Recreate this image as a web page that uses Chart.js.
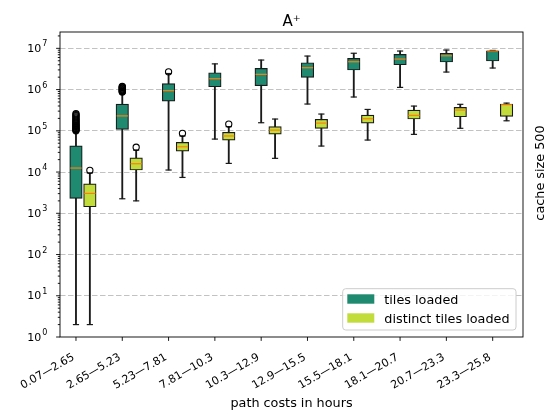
<!DOCTYPE html>
<html>
<head>
<meta charset="utf-8">
<script src="https://cdn.jsdelivr.net/npm/chart.js@4.4.1/dist/chart.umd.min.js"></script>
<style>
  html, body { margin: 0; padding: 0; background: #fff; }
  canvas { display: block; }
</style>
</head>
<body>
<canvas id="chart" width="548" height="415"></canvas>
<script>
const categories = ['0.07—2.65', '2.65—5.23', '5.23—7.81', '7.81—10.3', '10.3—12.9',
  '12.9—15.5', '15.5—18.1', '18.1—20.7', '20.7—23.3', '23.3—25.8'];

// tiles loaded
const tilesLow    = [2, 2250, 11200, 63000, 157000, 446000, 660000, 1130000, 2660000, 3330000];
const tilesQ1     = [2300, 108000, 527000, 1170000, 1240000, 1980000, 2980000, 4000000, 4660000, 4920000];
const tilesMedian = [12500, 230000, 940000, 1830000, 2340000, 3390000, 4730000, 5500000, 6600000, 8600000];
const tilesQ3     = [43000, 446000, 1390000, 2560000, 3270000, 4480000, 5700000, 7150000, 7600000, 8750000];
const tilesHigh   = [95000, 810000, 2450000, 4200000, 5200000, 6500000, 7600000, 8600000, 9100000, 8900000];
const tilesOutliers = [
  [100000, 104000, 108000, 112000, 117000, 122000, 128000, 134000, 140000, 147000,
   155000, 163000, 172000, 182000, 193000, 205000, 218000, 232000, 246000, 260000],
  [870000, 900000, 930000, 960000, 1000000, 1040000, 1080000, 1120000, 1160000, 1190000],
  [2700000], [], [], [], [], [], [], []
];

// distinct tiles loaded
const distinctLow    = [2, 2000, 7400, 16200, 21500, 42700, 59700, 82000, 115000, 175000];
const distinctQ1     = [1440, 11200, 32300, 59700, 83000, 115000, 154000, 193000, 219000, 224000];
const distinctMedian = [3040, 15900, 41000, 75000, 104000, 154000, 196000, 237000, 319000, 429000];
const distinctQ3     = [5200, 22000, 52500, 92000, 126000, 190000, 241000, 319000, 370000, 446000];
const distinctHigh   = [9500, 34000, 75000, 126000, 193000, 255000, 330000, 398000, 439000, 470000];
const distinctOutliers = [[11000], [40000], [87000], [146000], [], [], [], [], [], []];

const yExponents = [0, 1, 2, 3, 4, 5, 6, 7];

const GREEN = '#1f8a6f';
const YELLOW = '#c2dc3c';
const EDGE = '#1a1a1a';
const OFFSET = 0.3;
const FONT = '"DejaVu Sans", sans-serif';

function pos(i, series) { return series === 0 ? i : i + OFFSET; }
function boxData(lo, hi, s) { return lo.map((v, i) => ({ x: pos(i, s), y: [v, hi[i]] })); }
function pointData(vals, s) { return vals.map((v, i) => ({ x: pos(i, s), y: v })); }
function outlierData(lists, s) { return lists.flatMap((l, i) => l.map(v => ({ x: pos(i, s), y: v }))); }

const barCommon = { type: 'bar', grouped: false, barPercentage: 1, categoryPercentage: 1, borderSkipped: false };
const datasets = [
  { ...barCommon, label: 'tiles whisker', data: boxData(tilesLow, tilesHigh, 0), backgroundColor: EDGE, maxBarThickness: 1.2, order: 6 },
  { ...barCommon, label: 'distinct whisker', data: boxData(distinctLow, distinctHigh, 1), backgroundColor: EDGE, maxBarThickness: 1.2, order: 6 },
  { type: 'scatter', label: 'caps', data: [...pointData(tilesLow, 0), ...pointData(tilesHigh, 0), ...pointData(distinctLow, 1), ...pointData(distinctHigh, 1)],
    pointStyle: 'line', pointRadius: 3.1, borderColor: EDGE, borderWidth: 1.2, order: 5 },
  { ...barCommon, label: 'tiles loaded', data: boxData(tilesQ1, tilesQ3, 0), backgroundColor: GREEN, borderColor: EDGE, borderWidth: 1.2, maxBarThickness: 12.5, order: 3 },
  { ...barCommon, label: 'distinct tiles loaded', data: boxData(distinctQ1, distinctQ3, 1), backgroundColor: YELLOW, borderColor: EDGE, borderWidth: 1.2, maxBarThickness: 12.5, order: 3 },
  { type: 'scatter', label: 'outliers', data: [...outlierData(tilesOutliers, 0), ...outlierData(distinctOutliers, 1)],
    pointStyle: 'circle', pointRadius: 3.1, borderColor: '#000', borderWidth: 1.1, backgroundColor: 'rgba(0,0,0,0)', order: 2 },
  { type: 'scatter', label: 'medians', data: [...pointData(tilesMedian, 0), ...pointData(distinctMedian, 1)],
    pointStyle: 'line', pointRadius: 5.6, borderColor: '#ff7f0e', borderWidth: 1.2, order: 1 }
];

const legendItems = [
  { text: 'tiles loaded', color: GREEN },
  { text: 'distinct tiles loaded', color: YELLOW }
];

function line(ctx, x1, y1, x2, y2) { ctx.beginPath(); ctx.moveTo(x1, y1); ctx.lineTo(x2, y2); ctx.stroke(); }

const decorations = {
  id: 'decorations',
  afterDraw(chart) {
    const { ctx, chartArea: a, scales: { x, y } } = chart;
    ctx.save();
    ctx.strokeStyle = '#000';
    ctx.fillStyle = '#000';
    ctx.lineWidth = 0.9;
    ctx.strokeRect(a.left, a.top, a.right - a.left, a.bottom - a.top);

    // y axis ticks and labels
    yExponents.forEach(e => {
      const py = y.getPixelForValue(10 ** e);
      line(ctx, a.left - 3.9, py, a.left, py);
      ctx.font = '11px ' + FONT;
      ctx.textAlign = 'right';
      ctx.textBaseline = 'alphabetic';
      ctx.fillText('10', a.left - 18.8, py + 3.6);
      ctx.font = '8px ' + FONT;
      ctx.textAlign = 'left';
      ctx.fillText(String(e), a.left - 17.8, py - 2);
      for (let m = 2; m <= 9; m++) {
        const v = m * 10 ** e;
        if (v > y.max) break;
        const pm = y.getPixelForValue(v);
        line(ctx, a.left - 2.2, pm, a.left, pm);
      }
    });

    // x axis ticks and rotated labels
    ctx.font = '11px ' + FONT;
    categories.forEach((label, i) => {
      const px = x.getPixelForValue(i);
      line(ctx, px, a.bottom, px, a.bottom + 3.9);
      ctx.save();
      ctx.translate(px - 1, a.bottom + 22);
      ctx.rotate(-Math.PI / 6);
      ctx.textAlign = 'right';
      ctx.textBaseline = 'alphabetic';
      ctx.fillText(label, 0, 0);
      ctx.restore();
    });

    // titles
    const cx = (a.left + a.right) / 2;
    ctx.textAlign = 'center';
    ctx.font = '12.8px ' + FONT;
    ctx.fillText('path costs in hours', cx, 407);
    ctx.font = '15px ' + FONT;
    ctx.fillText('A⁺', cx, 25.5);
    ctx.save();
    ctx.font = '12.8px ' + FONT;
    ctx.translate(544, 173);
    ctx.rotate(-Math.PI / 2);
    ctx.fillText('cache size 500', 0, 0);
    ctx.restore();

    // legend
    ctx.beginPath();
    ctx.roundRect(342.7, 288.7, 173.3, 41.3, 3);
    ctx.fillStyle = 'rgba(255,255,255,0.8)';
    ctx.fill();
    ctx.strokeStyle = '#cccccc';
    ctx.lineWidth = 1;
    ctx.stroke();
    ctx.font = '12.8px ' + FONT;
    ctx.textAlign = 'left';
    legendItems.forEach((item, k) => {
      const top = 294.3 + k * 19;
      ctx.fillStyle = item.color;
      ctx.fillRect(347.3, top, 27, 9.4);
      ctx.fillStyle = '#000';
      ctx.fillText(item.text, 384.3, top + 9.4);
    });
    ctx.restore();
  }
};

new Chart(document.getElementById('chart'), {
  type: 'bar',
  data: { datasets },
  options: {
    responsive: false,
    animation: false,
    events: [],
    layout: { padding: { top: 32, right: 25, left: 0, bottom: 0 } },
    plugins: { legend: { display: false }, tooltip: { enabled: false }, title: { display: false } },
    scales: {
      x: {
        type: 'linear', min: -0.345, max: 9.655, offset: false,
        grid: { display: false }, border: { display: false },
        ticks: { display: false, stepSize: 1 },
        afterFit: s => { s.height = 78; }
      },
      y: {
        type: 'logarithmic', min: 1, max: 2.49e7,
        grid: {
          drawTicks: false, lineWidth: 1.1,
          color: c => {
            const l = Math.log10(c.tick.value);
            return Math.abs(l - Math.round(l)) < 1e-9 && c.tick.value > 1 ? '#c2c2c2' : 'rgba(0,0,0,0)';
          }
        },
        border: { display: false, dash: [5.5, 2.5] },
        ticks: { display: false },
        afterFit: s => { s.width = 60; }
      }
    }
  },
  plugins: [decorations]
});
</script>
</body>
</html>
